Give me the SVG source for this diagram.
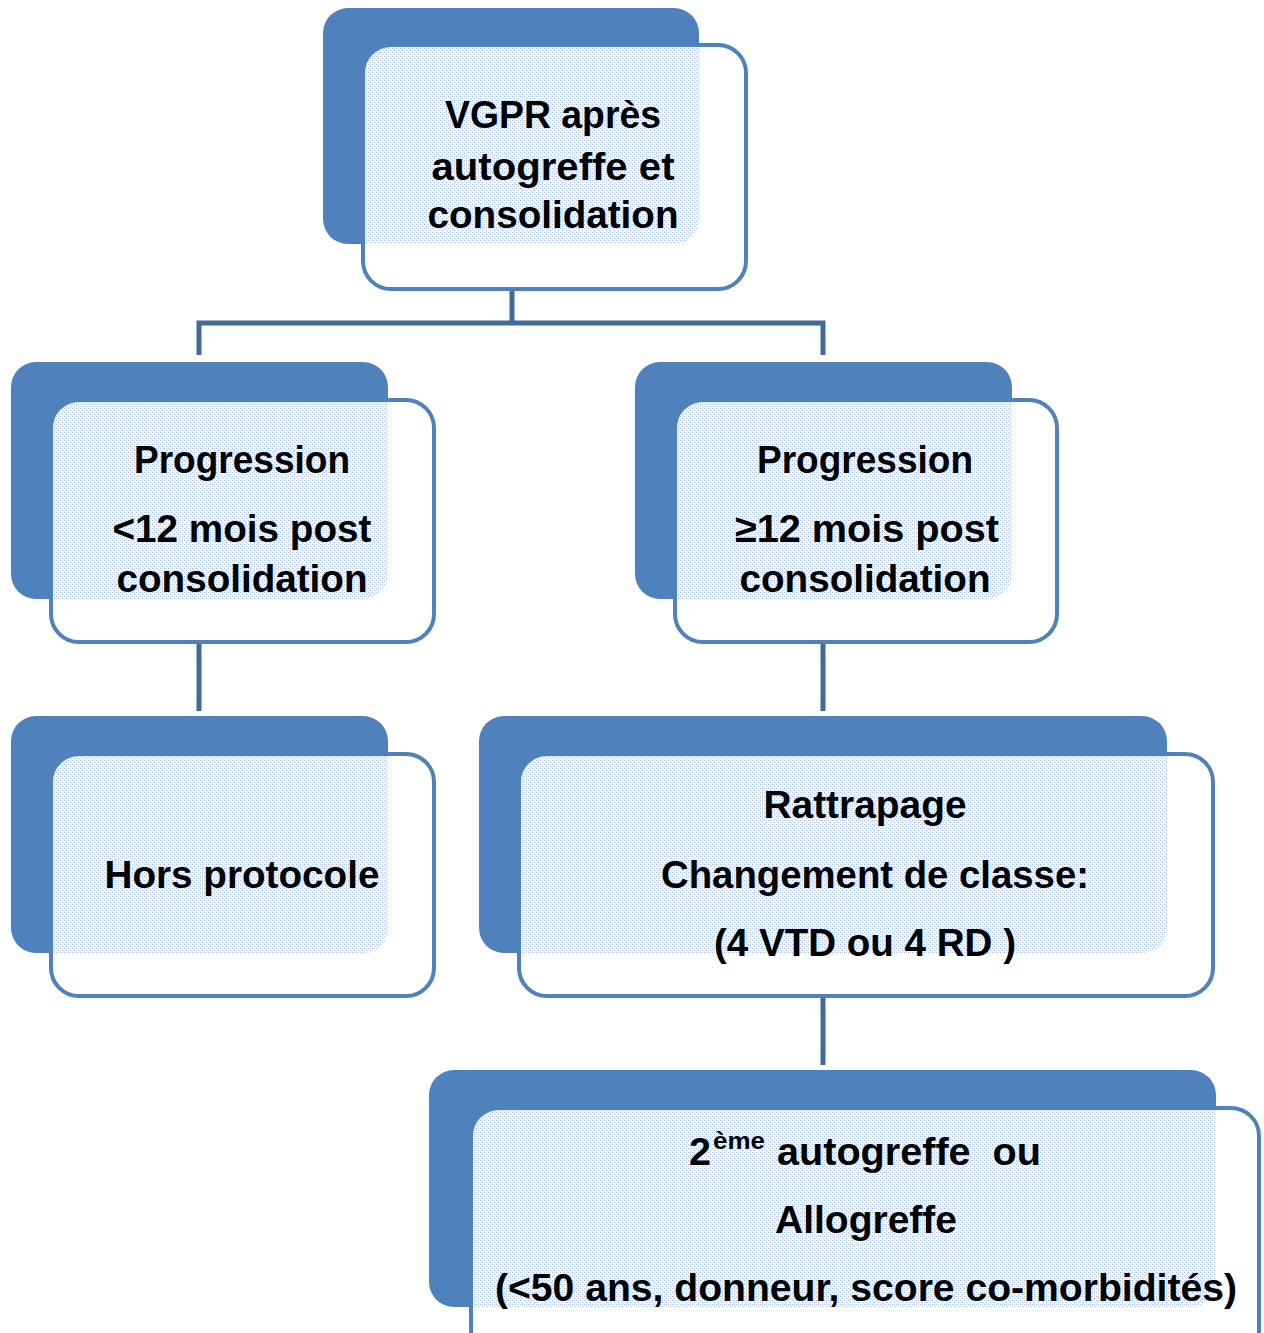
<svg xmlns="http://www.w3.org/2000/svg" width="1264" height="1333" viewBox="0 0 1264 1333">
<style>
.back{fill:#4F81BD}
.front{fill:#fff;stroke:none}
.edge{fill:none;stroke:#4F81BD;stroke-width:4}
.pat{fill:url(#dots)}
.conn{fill:none;stroke:#41699A;stroke-width:5;stroke-linejoin:miter}
text{font-family:"Liberation Sans",Arial,sans-serif;font-weight:bold;font-size:39px;fill:#000;text-anchor:middle}
.sup{font-size:23px;text-anchor:start}
.st{text-anchor:start}
</style>
<defs>
<pattern id="dots" width="4" height="4" patternUnits="userSpaceOnUse">
<rect width="4" height="4" fill="#f3f6fb"/>
<rect x="0" y="0" width="1" height="1" fill="#a8bfdc"/>
<rect x="2" y="2" width="1" height="1" fill="#a8bfdc"/>
<rect x="2" y="0" width="1" height="1" fill="#d5e0ee"/>
</pattern>
<clipPath id="c1"><rect x="363" y="45" width="383" height="244" rx="28"/></clipPath>
<clipPath id="c2"><rect x="51" y="400" width="383" height="242" rx="28"/></clipPath>
<clipPath id="c3"><rect x="675" y="400" width="382" height="242" rx="28"/></clipPath>
<clipPath id="c4"><rect x="51" y="754" width="383" height="242" rx="28"/></clipPath>
<clipPath id="c5"><rect x="519" y="754" width="694" height="242" rx="28"/></clipPath>
<clipPath id="c6"><rect x="471" y="1108" width="788" height="250" rx="28"/></clipPath>
</defs>
<rect width="1264" height="1333" fill="#fff"/>
<g id="connectors">
<path class="conn" d="M512 289 V323 M199 355 V323 H823 V355"/>
<path class="conn" d="M199 642 V711"/>
<path class="conn" d="M823 642 V711"/>
<path class="conn" d="M823 996 V1065"/>
</g>
<g id="n1">
<rect class="back" x="323" y="8" width="376" height="236" rx="25"/>
<rect class="front" x="363" y="45" width="383" height="244" rx="28"/>
<rect class="pat" x="323" y="8" width="376" height="236" rx="25" clip-path="url(#c1)"/>
<rect class="edge" x="363" y="45" width="383" height="244" rx="28"/>
<text x="553" y="128" textLength="216" lengthAdjust="spacingAndGlyphs">VGPR après</text>
<text x="553" y="180" textLength="243" lengthAdjust="spacingAndGlyphs">autogreffe et</text>
<text x="553" y="228" textLength="251" lengthAdjust="spacingAndGlyphs">consolidation</text>
</g>
<g id="n2">
<rect class="back" x="11" y="362" width="377" height="237" rx="25"/>
<rect class="front" x="51" y="400" width="383" height="242" rx="28"/>
<rect class="pat" x="11" y="362" width="377" height="237" rx="25" clip-path="url(#c2)"/>
<rect class="edge" x="51" y="400" width="383" height="242" rx="28"/>
<text x="242" y="473" textLength="216" lengthAdjust="spacingAndGlyphs">Progression</text>
<text x="242" y="542" textLength="259" lengthAdjust="spacingAndGlyphs">&lt;12 mois post</text>
<text x="242" y="592" textLength="251" lengthAdjust="spacingAndGlyphs">consolidation</text>
</g>
<g id="n3">
<rect class="back" x="635" y="362" width="377" height="237" rx="25"/>
<rect class="front" x="675" y="400" width="382" height="242" rx="28"/>
<rect class="pat" x="635" y="362" width="377" height="237" rx="25" clip-path="url(#c3)"/>
<rect class="edge" x="675" y="400" width="382" height="242" rx="28"/>
<text x="865" y="473" textLength="216" lengthAdjust="spacingAndGlyphs">Progression</text>
<text x="867" y="542" textLength="264" lengthAdjust="spacingAndGlyphs">≥12 mois post</text>
<text x="865" y="592" textLength="251" lengthAdjust="spacingAndGlyphs">consolidation</text>
</g>
<g id="n4">
<rect class="back" x="11" y="716" width="377" height="237" rx="25"/>
<rect class="front" x="51" y="754" width="383" height="242" rx="28"/>
<rect class="pat" x="11" y="716" width="377" height="237" rx="25" clip-path="url(#c4)"/>
<rect class="edge" x="51" y="754" width="383" height="242" rx="28"/>
<text x="242" y="888" textLength="275" lengthAdjust="spacingAndGlyphs">Hors protocole</text>
</g>
<g id="n5">
<rect class="back" x="479" y="716" width="688" height="237" rx="25"/>
<rect class="front" x="519" y="754" width="694" height="242" rx="28"/>
<rect class="pat" x="479" y="716" width="688" height="237" rx="25" clip-path="url(#c5)"/>
<rect class="edge" x="519" y="754" width="694" height="242" rx="28"/>
<text x="865" y="818" textLength="203" lengthAdjust="spacingAndGlyphs">Rattrapage</text>
<text x="875" y="888" textLength="428" lengthAdjust="spacingAndGlyphs">Changement de classe:</text>
<text x="865" y="956" textLength="302" lengthAdjust="spacingAndGlyphs">(4 VTD ou 4 RD )</text>
</g>
<g id="n6">
<rect class="back" x="429" y="1070" width="787" height="237" rx="25"/>
<rect class="front" x="471" y="1108" width="788" height="250" rx="28"/>
<rect class="pat" x="429" y="1070" width="787" height="237" rx="25" clip-path="url(#c6)"/>
<rect class="edge" x="471" y="1108" width="788" height="250" rx="28"/>
<text class="st" x="689" y="1165" textLength="22" lengthAdjust="spacingAndGlyphs">2</text>
<text class="sup" x="713" y="1149" textLength="52" lengthAdjust="spacingAndGlyphs">ème</text>
<text class="st" x="777" y="1165" textLength="264" lengthAdjust="spacingAndGlyphs">autogreffe &#160;ou</text>
<text x="866" y="1233" textLength="182" lengthAdjust="spacingAndGlyphs">Allogreffe</text>
<text x="866" y="1301" textLength="742" lengthAdjust="spacingAndGlyphs">(&lt;50 ans, donneur, score co-morbidités)</text>
</g>
</svg>
